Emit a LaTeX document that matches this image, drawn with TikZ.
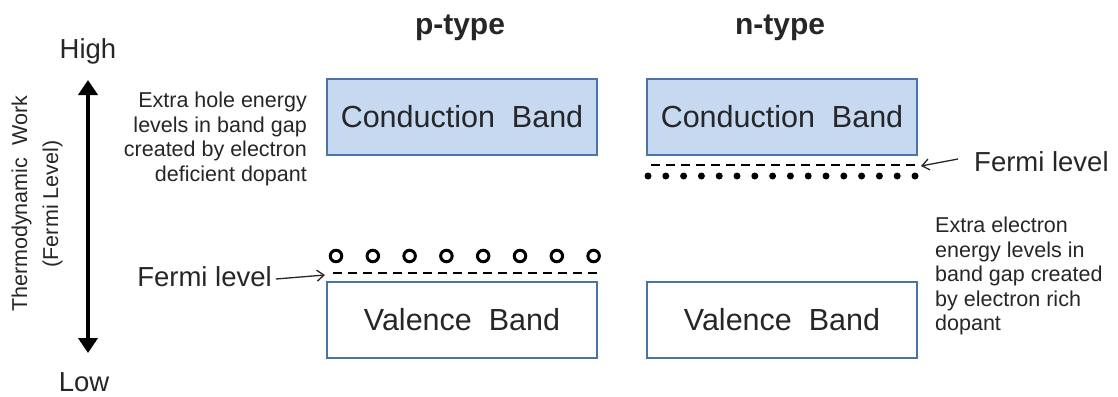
\documentclass[tikz,border=0pt]{standalone}
\usepackage{fontspec}
\setmainfont{Liberation Sans}
\usetikzlibrary{arrows.meta}
\definecolor{txt}{HTML}{262626}
\definecolor{cbfill}{HTML}{C6D9F1}
\definecolor{bandline}{HTML}{4A73A8}
\tikzset{
  band/.style={draw=bandline, line width=2.5pt, minimum width=270pt, minimum height=76pt, inner sep=0pt, font=\fontsize{30.5}{34}\selectfont, text=txt},
  cband/.style={band, fill=cbfill},
  vband/.style={band, fill=white},
  title/.style={font=\fontsize{30}{34}\selectfont\bfseries, text=txt},
  note/.style={font=\fontsize{21.5}{24.5}\selectfont, text=txt, inner sep=0pt},
  fermi/.style={font=\fontsize{27.5}{30}\selectfont, text=txt, inner sep=0pt},
  level/.style={draw=black, line width=1.6pt, dash pattern=on 9pt off 6pt},
  hole/.style={circle, draw=black, line width=3pt, minimum size=11.5pt, inner sep=0pt},
  elec/.style={circle, fill=black, minimum size=7pt, inner sep=0pt},
  pointer/.style={-{Straight Barb[length=7pt,width=11pt]}, line width=1.3pt, draw=txt}
}
\begin{document}
\begin{tikzpicture}[x=1pt,y=-1pt]
\useasboundingbox (0,0) rectangle (1118,396);
% titles
\node[title] (pt) at (460,28) {p-type};
\node[title] (nt) at (780,28) {n-type};
% axis
\node[font=\fontsize{27.5}{30}\selectfont, text=txt] (high) at (88,51) {High};
\node[font=\fontsize{27.5}{30}\selectfont, text=txt] (low) at (84,382) {Low};
\coordinate (atop) at (88,80);
\coordinate (abot) at (88,353);
\draw[line width=4pt, {Triangle[length=15pt,width=19pt]}-{Triangle[length=15pt,width=19pt]}] (atop) -- (abot);
\node[rotate=90, align=center, font=\fontsize{21.5}{31}\selectfont, text=txt] (axl) at (37,204) {Thermodynamic\ \ Work\\(Fermi Level)};
% bands
\node[cband] (pcb) at (462,117) {Conduction\ \ Band};
\node[cband] (ncb) at (782,117) {Conduction\ \ Band};
\node[vband] (pvb) at (462,320) {Valence\ \ Band};
\node[vband] (nvb) at (782,320) {Valence\ \ Band};
% p-type level
\coordinate (pl1) at (333,273);
\coordinate (pl2) at (597,273);
\draw[level] (pl1) -- (pl2);
\foreach \i in {0,...,7} {
  \node[hole] (h\i) at ({336+\i*36.8},256) {};
}
\node[fermi, anchor=east] (pfl) at (272,277) {Fermi level};
\coordinate (parr) at (325,275);
\draw[pointer] (pfl.east) ++(4pt,-2pt) -- (parr);
% n-type level
\coordinate (nl1) at (651,165);
\coordinate (nl2) at (915,165);
\draw[level] (nl1) -- (nl2);
\foreach \i in {0,...,15} {
  \node[elec] (e\i) at ({648+\i*17.8},176) {};
}
\node[fermi, anchor=west] (nfl) at (974,162) {Fermi level};
\coordinate (narr) at (921,166);
\draw[pointer] (nfl.west) ++(-16pt,3pt) -- (narr);
% annotations
\node[note, anchor=east, align=right] (pnote) at (307,139) {Extra hole energy\\levels in band gap\\created by electron\\deficient dopant};
\node[note, anchor=west, align=left] (nnote) at (935,276) {Extra electron\\energy levels in\\band gap created\\by electron rich\\dopant};
\end{tikzpicture}
\end{document}
